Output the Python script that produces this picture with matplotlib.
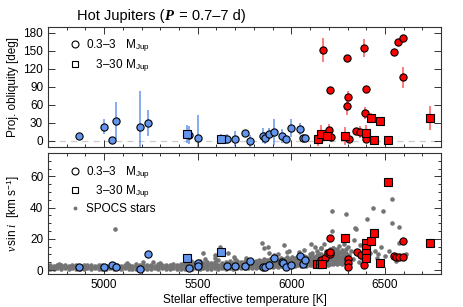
import matplotlib
matplotlib.use("Agg")
import matplotlib.pyplot as plt
from matplotlib.lines import Line2D
from matplotlib.ticker import MultipleLocator

plt.rcParams['font.family'] = 'Liberation Sans'
plt.rcParams['mathtext.fontset'] = 'custom'
plt.rcParams['mathtext.rm'] = 'Liberation Sans'
plt.rcParams['mathtext.it'] = 'Liberation Serif:italic'
plt.rcParams['mathtext.bf'] = 'Liberation Serif:italic:bold'

# ---- top panel: projected obliquity ----
# blue = cool hosts, red = hot hosts; circles 0.3-3 MJup, squares 3-30 MJup
bc_teff = [4866, 5001, 5042, 5062, 5192, 5233, 5452, 5500, 5655, 5700, 5750,
           5780, 5848, 5860, 5878, 5905, 5950, 5973, 6000, 6048, 6062, 6074]
bc_obl = [8, 24, 1, 34, 24, 30, 10, 5, 3, 4, 14, 0, 9, 5, 11, 15, 8, 4, 22,
          20, 5, 5]
bc_err = [4, 13, 3, 31, 60, 21, 15, 38, 8, 12, 4, 10, 12, 10, 10, 22, 12, 3,
          15, 10, 5, 3]

bs_teff = [5441, 5625]
bs_obl = [11, 4]
bs_err = [15, 8]

rc_teff = [6169, 6297, 6208, 6302, 6297, 6386, 6399, 6395, 6547, 6568, 6597,
           6597, 6199, 6212, 6187, 6306, 6347, 6369, 6399]
rc_obl = [151, 139, 85, 73, 59, 155, 86, 47, 149, 165, 171, 106, 18, 6, 8, 4,
          16, 15, 4]
rc_err = [20, 5, 5, 10, 15, 15, 5, 10, 5, 5, 5, 18, 10, 5, 6, 6, 6, 10, 8]

rs_teff = [6140, 6158, 6190, 6288, 6399, 6425, 6443, 6472, 6515, 6739]
rs_obl = [3, 11, 8, 9, 13, 38, 1, 34, 1, 38]
rs_err = [12, 15, 8, 15, 14, 8, 8, 4, 4, 20]

# ---- bottom panel: v sin i ----
vbc_teff = [4866, 5001, 5042, 5062, 5192, 5233, 5452, 5500, 5500, 5655, 5700,
            5750, 5780, 5848, 5860, 5878, 5905, 5950, 5955, 5973, 6000, 6048,
            6062, 6074]
vbc_vsini = [1.7, 2.1, 3.2, 2.1, 0.4, 10.1, 1.3, 4.5, 2.5, 2.6, 2.6, 2.8, 5.8,
             1.7, 1.7, 3.2, 8.0, 5.4, 4.4, 1.7, 3.2, 9.0, 3.9, 6.5]
vbs_teff = [5441, 5625]
vbs_vsini = [8.0, 11.8]

vrc_teff = [6158, 6178, 6197, 6204, 6208, 6204, 6300, 6300, 6300, 6351, 6372,
            6388, 6547, 6561, 6575, 6597, 6597]
vrc_vsini = [6.5, 7.5, 10.8, 10.1, 11.4, 20.5, 7.1, 4.3, 2.1, 11.8, 9.7, 3.5,
             9.0, 8.6, 8.4, 18.9, 8.2]
vrs_teff = [6137, 6151, 6165, 6288, 6400, 6400, 6400, 6400, 6425, 6440, 6472,
            6515, 6739]
vrs_vsini = [3.7, 3.7, 3.7, 20.8, 17.2, 14.0, 10.8, 7.5, 18.7, 24.0, 4.7,
             56.3, 17.2]

spocs_cool = [
    (4710, [1.0, 2.1, 3.2]), (4730, [0.7, 1.8, 2.9]), (4750, [1.2, 2.4, 3.4]),
    (4770, [0.9, 2.0, 3.0]), (4790, [1.1, 2.2, 3.3]), (4810, [0.8, 1.7, 2.8]),
    (4830, [1.3, 2.5, 3.5]), (4850, [0.9, 1.9, 3.1]), (4870, [1.0, 2.2, 2.9]),
    (4890, [0.7, 1.6, 3.3]), (4910, [1.2, 2.3, 3.0]), (4930, [0.8, 2.0, 3.4]),
    (4950, [1.1, 1.8, 2.7]), (4970, [0.9, 2.4, 3.2]), (4990, [1.0, 2.1, 3.5]),
    (5010, [0.6, 1.9, 2.9]), (5030, [1.2, 2.2, 3.1]), (5050, [0.9, 1.7, 3.6]),
    (5070, [1.1, 2.5, 3.0]), (5090, [0.8, 2.0, 2.8]), (5110, [1.3, 2.3, 3.4]),
    (5130, [0.7, 1.8, 3.2]), (5150, [1.0, 2.2, 2.9]), (5170, [0.9, 2.6, 3.6]),
    (5190, [1.2, 1.9, 3.0]), (5210, [0.8, 2.1, 3.3]), (5230, [1.0, 2.4, 3.1]),
    (5250, [0.7, 1.8, 3.5]), (5270, [1.1, 2.2, 2.8]), (5290, [0.9, 2.5, 3.7]),
    (5310, [1.2, 2.0, 3.1]), (5330, [0.8, 2.3, 3.4]), (5350, [1.0, 1.9, 3.0]),
    (5370, [1.3, 2.6, 3.8]), (5390, [0.9, 2.1, 3.2]),
]
spocs_g = [
    (5410, [1.0, 2.0, 3.1, 4.2]), (5430, [0.8, 2.3, 3.4, 4.8]),
    (5450, [1.2, 2.1, 3.0, 4.0]), (5470, [0.9, 1.9, 3.3, 5.2]),
    (5490, [1.1, 2.4, 3.6, 4.5]), (5510, [0.8, 2.2, 3.2, 6.0]),
    (5530, [1.3, 2.0, 3.5, 4.4]), (5550, [1.0, 2.5, 3.8, 5.0]),
    (5570, [0.9, 2.1, 3.1, 4.6]), (5590, [1.2, 2.6, 3.7, 5.5]),
    (5610, [1.0, 2.3, 3.4, 6.4]), (5630, [1.4, 2.2, 3.9, 4.8]),
    (5650, [0.9, 2.7, 3.6, 5.3]), (5670, [1.2, 2.4, 4.0, 5.8]),
    (5690, [1.0, 2.1, 3.3, 4.7]), (5710, [1.3, 2.8, 4.1, 6.1]),
    (5730, [1.1, 2.3, 3.5, 5.2]), (5750, [1.4, 2.6, 4.2, 5.6]),
    (5770, [1.2, 2.9, 3.8, 6.6]), (5790, [1.5, 2.5, 4.0, 5.4]),
]
spocs_f = [
    (5810, [1.6, 2.9, 4.2, 5.8]), (5825, [2.0, 3.3, 4.7, 6.5]),
    (5840, [1.7, 3.0, 4.4, 6.0]), (5855, [2.2, 3.6, 5.0, 7.2]),
    (5870, [1.9, 3.2, 4.6, 6.3]), (5885, [2.4, 3.8, 5.3, 7.0]),
    (5900, [2.0, 3.4, 4.9, 6.8]), (5915, [2.5, 3.9, 5.5, 7.5]),
    (5930, [2.1, 3.5, 5.1, 6.6]), (5945, [2.6, 4.1, 5.7, 7.8]),
    (5960, [2.3, 3.7, 5.2, 7.1]), (5975, [2.8, 4.3, 6.0, 8.2]),
    (5990, [2.4, 3.9, 5.4, 7.4]), (6005, [2.9, 4.5, 6.2, 8.5]),
    (6020, [2.6, 4.0, 5.8, 7.7]), (6035, [3.0, 4.6, 6.4, 9.0]),
    (6050, [2.7, 4.2, 6.0, 8.0]), (6065, [3.2, 4.8, 6.6, 9.3]),
    (6080, [2.9, 4.4, 6.1, 8.4]),
]
spocs_hot = [
    (6100, [3.0, 4.8, 6.5, 8.3, 10.2]), (6112, [3.4, 5.2, 7.0, 9.0, 11.0]),
    (6124, [2.8, 4.6, 6.3, 8.6, 14.8]), (6136, [3.6, 5.5, 7.4, 9.5, 12.0]),
    (6148, [3.1, 5.0, 6.8, 8.8, 10.6]), (6160, [3.8, 5.8, 7.7, 10.0, 14.0]),
    (6172, [3.3, 5.3, 7.2, 9.3, 17.0]), (6184, [4.0, 6.0, 8.0, 10.4, 12.5]),
    (6196, [3.5, 5.6, 7.5, 9.7, 11.6]), (6208, [4.2, 6.3, 8.4, 10.8, 13.2]),
    (6220, [3.7, 5.8, 7.8, 10.1, 14.0]), (6232, [4.4, 6.5, 8.6, 11.0, 12.4]),
    (6244, [3.9, 6.0, 8.1, 10.5, 13.6]), (6256, [4.6, 6.8, 8.9, 11.4, 15.2]),
    (6268, [4.1, 6.2, 8.3, 10.7, 12.8]), (6280, [4.8, 7.0, 9.2, 11.8, 16.5]),
    (6292, [4.3, 6.4, 8.6, 11.1, 13.5]),
]
spocs_scatter_teff = [
    5060, 5210, 4760, 5120, 5300, 5260, 5527, 5593, 5620, 5664, 5691, 5540,
    5700, 5760, 5460, 5590, 5843, 5855, 5873, 5882, 5976, 5962, 5990, 5930,
    6040, 6070, 5905, 6106, 6217, 6217, 6222, 6158, 6294, 6404, 6434, 6488,
    6538, 6538, 6577, 6342, 6348, 6337, 6369, 6445, 6465, 6577, 6310, 6320,
    6330, 6355, 6380, 6390, 6410, 6420, 6455, 6480, 6500, 6520, 6560, 6610,
    6305, 6360]
spocs_scatter_vsini = [
    26.5, 5.2, 4.0, 4.3, 4.6, 5.0, 10.8, 9.7, 14.6, 10.8, 8.6, 7.2,
    7.0, 7.8, 6.3, 7.5, 17.2, 14.0, 14.6, 10.8, 11.8, 16.0, 12.5, 10.0,
    11.5, 12.8, 9.6, 16.6, 37.6, 25.3, 14.0, 14.0, 36.0, 33.0, 40.0, 37.6,
    45.6, 30.0, 27.5, 27.0, 26.3, 19.4, 16.0, 12.5, 10.0, 17.6, 9.5, 12.5,
    7.0, 10.5, 8.0, 13.0, 6.5, 11.0, 7.5, 14.5, 9.0, 12.0, 6.0, 10.5,
    15.0, 5.5]

spocs_teff = []
spocs_vsini = []
for group in (spocs_cool, spocs_g, spocs_f, spocs_hot):
    for t, vs in group:
        spocs_teff += [t] * len(vs)
        spocs_vsini += vs
spocs_teff += spocs_scatter_teff
spocs_vsini += spocs_scatter_vsini

blue = '#6495ED'
red = '#FF0000'
red_err = '#FF5A5A'
gray = '#747474'
ms = 5.2

fig = plt.figure(figsize=(4.63, 3.07), dpi=100)
ax1 = fig.add_axes([0.1037, 0.5212, 0.849, 0.391])
ax2 = fig.add_axes([0.1037, 0.1075, 0.849, 0.394])

# top panel
ax1.axhline(0, color='#cccccc', lw=0.9, ls=(0, (5, 4)), zorder=0)
ax1.errorbar(bc_teff, bc_obl, yerr=bc_err, fmt='none', ecolor=blue, elinewidth=1.1, zorder=1)
ax1.errorbar(bs_teff, bs_obl, yerr=bs_err, fmt='none', ecolor=blue, elinewidth=1.1, zorder=1)
ax1.errorbar(rc_teff, rc_obl, yerr=rc_err, fmt='none', ecolor=red_err, elinewidth=1.1, zorder=1)
ax1.errorbar(rs_teff, rs_obl, yerr=rs_err, fmt='none', ecolor=red_err, elinewidth=1.1, zorder=1)
ax1.plot(bc_teff, bc_obl, 'o', mfc=blue, mec='k', mew=0.8, ms=ms, ls='none', zorder=3)
ax1.plot(bs_teff, bs_obl, 's', mfc=blue, mec='k', mew=0.8, ms=ms, ls='none', zorder=3)
ax1.plot(rc_teff, rc_obl, 'o', mfc=red, mec='k', mew=0.8, ms=ms, ls='none', zorder=3)
ax1.plot(rs_teff, rs_obl, 's', mfc=red, mec='k', mew=0.8, ms=ms, ls='none', zorder=3)

# bottom panel
ax2.plot(spocs_teff, spocs_vsini, 'o', color=gray, ms=3.3, mew=0, ls='none', zorder=1)
ax2.plot(vbc_teff, vbc_vsini, 'o', mfc=blue, mec='k', mew=0.8, ms=ms, ls='none', zorder=3)
ax2.plot(vbs_teff, vbs_vsini, 's', mfc=blue, mec='k', mew=0.8, ms=ms, ls='none', zorder=3)
ax2.plot(vrc_teff, vrc_vsini, 'o', mfc=red, mec='k', mew=0.8, ms=ms, ls='none', zorder=3)
ax2.plot(vrs_teff, vrs_vsini, 's', mfc=red, mec='k', mew=0.8, ms=ms, ls='none', zorder=3)

for ax in (ax1, ax2):
    ax.set_xlim(4700, 6800)
    ax.xaxis.set_major_locator(MultipleLocator(500))
    ax.xaxis.set_minor_locator(MultipleLocator(100))
    ax.tick_params(which='both', direction='in', top=True, right=True,
                   labelsize=8.5, width=0.7, color='#333333')
    ax.tick_params(which='major', length=5)
    ax.tick_params(which='minor', length=2.5)
    for s in ax.spines.values():
        s.set_linewidth(0.8)
        s.set_color('#333333')

ax1.set_ylim(-10, 190)
ax1.yaxis.set_major_locator(MultipleLocator(30))
ax1.tick_params(labelbottom=False)
ax1.set_ylabel('Proj. obliquity [deg]', fontsize=8.5, labelpad=3)

ax2.set_ylim(-2.5, 75)
ax2.yaxis.set_major_locator(MultipleLocator(20))
ax2.yaxis.set_minor_locator(MultipleLocator(5))
ax2.set_ylabel(r'$v\,\sin\,i$  [km s$^{-1}$]', fontsize=8.5, labelpad=6)
ax2.set_xlabel('Stellar effective temperature [K]', fontsize=8.5, labelpad=2)

# title in pieces so P can be bold italic serif
t1 = fig.text(0.166, 0.935, 'Hot Jupiters (', fontsize=10.5, va='baseline')
t2 = ax1.annotate(r'$\mathbf{P}$', xy=(1, 0), xycoords=t1, fontsize=10.5, va='bottom')
ax1.annotate(' = 0.7\u20137 d)', xy=(1, 0), xycoords=t2, fontsize=10.5, va='bottom')

lab_c = '0.3\u20133   M$_{\\mathrm{Jup}}$'
lab_s = '   3\u201330 M$_{\\mathrm{Jup}}$'
h_c = Line2D([], [], marker='o', mfc='white', mec='k', mew=0.8, ms=5, ls='none')
h_s = Line2D([], [], marker='s', mfc='white', mec='k', mew=0.8, ms=5, ls='none')
h_d = Line2D([], [], marker='o', color=gray, mew=0, ms=2.8, ls='none')

leg_kw = dict(frameon=False, fontsize=8.5, handlelength=0.8, handletextpad=0.5,
              borderaxespad=0, labelspacing=0.25, loc='upper left')
ax1.legend([h_c, h_s], [lab_c, lab_s], bbox_to_anchor=(0.045, 0.95), **leg_kw)
ax2.legend([h_c, h_s, h_d], [lab_c, lab_s, 'SPOCS stars'],
           bbox_to_anchor=(0.045, 0.95), **leg_kw)

fig.savefig('out.png', dpi=100)
